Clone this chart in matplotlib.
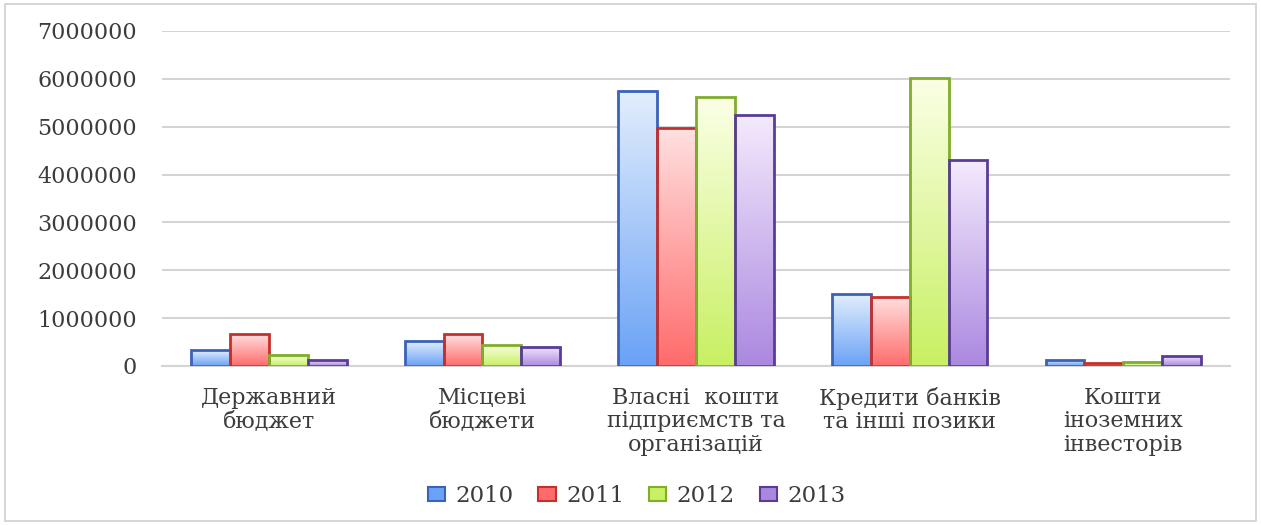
import numpy as np
import matplotlib.pyplot as plt
from matplotlib.colors import LinearSegmentedColormap
from matplotlib.patches import Rectangle

categories = ['Державний\nбюджет', 'Місцеві\nбюджети', 'Власні  кошти\nпідприємств та\nорганізацій',
              'Кредити банків\nта інші позики', 'Кошти\nіноземних\nінвесторів']
years = ['2010', '2011', '2012', '2013']
v2010 = [330000, 520000, 5740000, 1500000, 130000]
v2011 = [670000, 660000, 4970000, 1450000, 60000]
v2012 = [230000, 440000, 5620000, 6020000, 80000]
v2013 = [130000, 400000, 5240000, 4300000, 210000]
yticks = [0, 1000000, 2000000, 3000000, 4000000, 5000000, 6000000, 7000000]

edges = ['#3a62b8', '#c6302c', '#7fae2a', '#5a3c98']
tops = ['#e2eefc', '#ffe0e0', '#fbffe6', '#f4eafd']
bottoms = ['#6aa2f6', '#ff6b6b', '#c8f062', '#ab88e0']

plt.rcParams['font.family'] = ['DejaVu Serif']

fig = plt.figure(figsize=(12.61, 5.25), dpi=100)
fig.patches.append(Rectangle((0.004, 0.008), 0.992, 0.984, transform=fig.transFigure,
                             fill=False, edgecolor='#d0d0d0', lw=1.2))
ax = fig.add_axes([0.1285, 0.303, 0.847, 0.638])

x = np.arange(len(categories))
w = 0.182
series = [v2010, v2011, v2012, v2013]
handles = []
for i, vals in enumerate(series):
    bars = ax.bar(x + (i - 1.5) * w, vals, w, facecolor='none', edgecolor=edges[i],
                  linewidth=2, zorder=3, label=years[i])
    cmap = LinearSegmentedColormap.from_list('g%d' % i, [bottoms[i], tops[i]])
    grad = np.linspace(0, 1, 256).reshape(-1, 1)
    for b in bars:
        x0, y0 = b.get_x(), b.get_y()
        im = ax.imshow(grad, cmap=cmap, origin='lower', aspect='auto', zorder=2,
                       extent=[x0, x0 + b.get_width(), y0, y0 + b.get_height()])
        im.set_clip_path(b)
    handles.append(Rectangle((0, 0), 1, 1, facecolor=bottoms[i], edgecolor=edges[i], lw=1.5))

ax.set_xlim(-0.5, len(categories) - 0.5)
ax.set_ylim(0, 7000000)
ax.set_yticks(yticks)
ax.set_yticklabels([str(t) for t in yticks])
ax.yaxis.grid(True, color='#d4d4d4', lw=1.5, zorder=0)
ax.set_axisbelow(True)
for s in ['top', 'right', 'left']:
    ax.spines[s].set_visible(False)
ax.spines['bottom'].set_color('#d4d4d4')
ax.spines['bottom'].set_linewidth(1.5)
ax.tick_params(axis='y', length=0, pad=18, labelsize=16, labelcolor='#3c3c3c')
ax.tick_params(axis='x', length=0, pad=15, labelsize=16, labelcolor='#3c3c3c')
ax.set_xticks(x)
ax.set_xticklabels(categories, linespacing=1.1)

fig.legend(handles, years, loc='center', bbox_to_anchor=(0.505, 0.055), ncol=4, frameon=False,
           fontsize=16.5, handlelength=0.75, handleheight=0.5, handletextpad=0.45,
           columnspacing=1.1, labelcolor='#3c3c3c')

fig.savefig('out.png', dpi=100)
